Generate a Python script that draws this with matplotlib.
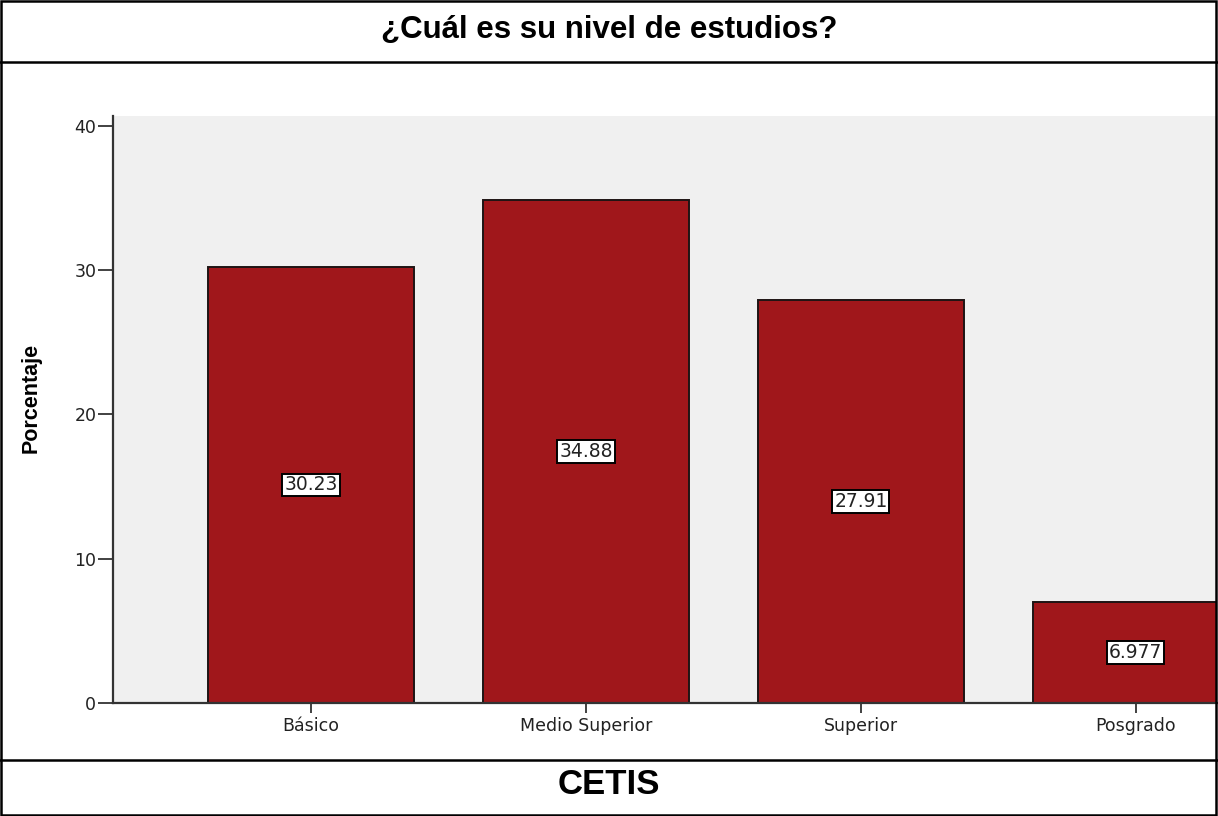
import matplotlib.pyplot as plt
from matplotlib.lines import Line2D
from matplotlib.patches import Rectangle

niveles = ["Básico", "Medio Superior", "Superior", "Posgrado"]
porcentajes = [30.23, 34.88, 27.91, 6.977]
etiquetas = ["30.23", "34.88", "27.91", "6.977"]
yticks = [0, 10, 20, 30, 40]

plt.rcParams['font.family'] = ['Liberation Sans', 'DejaVu Sans']

fig = plt.figure(figsize=(12.18, 8.16), dpi=100)
W, H = 1218, 816

# table frame around the chart
fig.add_artist(Rectangle((0.001, 0.0015), 0.997, 0.997, transform=fig.transFigure,
                         fill=False, edgecolor='black', linewidth=1.8))
for yy in [62, 760]:
    fig.add_artist(Line2D([0, 1], [1 - yy / H, 1 - yy / H], transform=fig.transFigure,
                          color='black', linewidth=1.8))

fig.text(0.5, 1 - 30 / H, "¿Cuál es su nivel de estudios?", ha='center', va='center',
         fontsize=22.5, fontweight='bold')
fig.text(0.5, 1 - 784 / H, "CETIS", ha='center', va='center',
         fontsize=25, fontweight='bold')

left, right, top, bottom = 113, 1217, 116, 703
ax = fig.add_axes([left / W, 1 - bottom / H, (right - left) / W, (bottom - top) / H])
ax.set_facecolor('#f0f0f0')

small = ['DejaVu Sans']
x = range(len(niveles))
bars = ax.bar(x, porcentajes, width=0.75, color='#a0171b', edgecolor='#1e1414',
              linewidth=1.4, zorder=2)
for xi, v, t in zip(x, porcentajes, etiquetas):
    ax.text(xi, v / 2, t, ha='center', va='center', fontsize=13.5, family=small,
            zorder=3, color='#222222',
            bbox=dict(boxstyle='square,pad=0.1', facecolor='white',
                      edgecolor='black', linewidth=1.4))

ax.set_xlim(-0.72, 3.295)
ax.set_ylim(0, 40.69)
ax.set_yticks(yticks)
ax.set_xticks(list(x))
ax.set_xticklabels(niveles)
for lab in ax.get_xticklabels() + ax.get_yticklabels():
    lab.set_family(small)
    lab.set_fontsize(12.5)
    lab.set_color('#222222')
ax.tick_params(axis='y', length=11, width=1.3, color='#333333', pad=1)
ax.tick_params(axis='x', length=7, width=1.3, color='#333333', pad=3)

for s in ['top', 'right']:
    ax.spines[s].set_visible(False)
for s in ['left', 'bottom']:
    ax.spines[s].set_color('#333333')
    ax.spines[s].set_linewidth(1.6)

ax.set_ylabel("Porcentaje", fontsize=15.5, fontweight='bold',
              family=['Liberation Sans Narrow', 'Liberation Sans'])
ax.yaxis.set_label_coords(-0.065, 0.52)

fig.savefig("out.png", dpi=100)
